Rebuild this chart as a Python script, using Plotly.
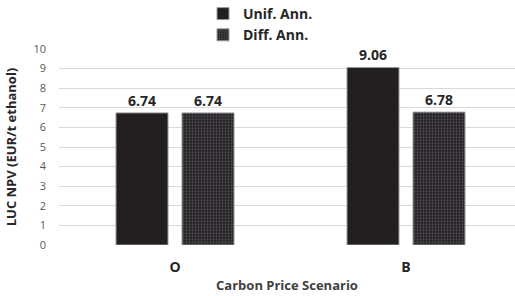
import plotly.graph_objects as go

categories = ["O", "B"]
unif_ann = [6.74, 9.06]
diff_ann = [6.74, 6.78]
series_names = ["Unif. Ann.", "Diff. Ann."]
y_ticks = [0, 1, 2, 3, 4, 5, 6, 7, 8, 9, 10]

W, H = 515, 296
ml, mr, mt, mb = 59, 0, 49, 51
pw = W - ml - mr
ph = H - mt - mb

FONT = "Open Sans"

fig = go.Figure()
fig.add_trace(go.Bar(
    x=categories, y=unif_ann, name=series_names[0],
    marker=dict(color="#231f20", line=dict(color="#9a9a9a", width=1)),
    texttemplate="%{y:.2f}", textposition="outside", cliponaxis=False,
    textfont=dict(family=FONT, size=14, color="#262626", weight="bold"),
))
fig.add_trace(go.Bar(
    x=categories, y=diff_ann, name=series_names[1],
    marker=dict(color="#231f20", line=dict(color="#9a9a9a", width=1),
                pattern=dict(shape=".", bgcolor="#231f20", fgcolor="#6f7080",
                             size=3, solidity=0.45, fillmode="overlay")),
    texttemplate="%{y:.2f}", textposition="outside", cliponaxis=False,
    textfont=dict(family=FONT, size=14, color="#262626", weight="bold"),
))

# category positions: O center at px 175, B at 406
scale = 406 - 175
x0 = -(175 - ml) / scale
x1 = 1 + (W - mr - 406) / scale

fig.update_layout(
    width=W, height=H,
    margin=dict(l=ml, r=mr, t=mt, b=mb, pad=0, autoexpand=False),
    paper_bgcolor="white", plot_bgcolor="white",
    barmode="group", bargap=0.4286, bargroupgap=0.212,
    hovermode=False,
    font=dict(family=FONT, color="#595959"),
    legend=dict(
        orientation="v", x=(203 - ml) / pw, xanchor="left",
        y=1 + 51 / ph, yanchor="top",
        font=dict(family=FONT, size=14, color="#262626", weight="bold"),
        bgcolor="rgba(0,0,0,0)", tracegroupgap=0, itemwidth=30,
        traceorder="normal",
    ),
    xaxis=dict(
        range=[x0, x1], showgrid=False, zeroline=False, showline=False,
        automargin=False, ticklabelstandoff=12,
        ticks="", tickfont=dict(family=FONT, size=14, color="#262626", weight="bold"),
        title=dict(text="Carbon Price Scenario", standoff=5,
                   font=dict(family=FONT, size=13, color="#404040", weight="bold")),
    ),
    yaxis=dict(
        range=[0, 10], tickvals=y_ticks, showgrid=True, gridcolor="#d9d9d9",
        gridwidth=1, zeroline=False, showline=False, ticks="",
        automargin=False, ticklabelstandoff=12,
        tickfont=dict(family=FONT, size=11, color="#595959"),
        title=dict(text="LUC NPV (EUR/t ethanol)", standoff=13,
                   font=dict(family=FONT, size=13, color="#262626", weight="bold")),
    ),
)

fig.write_html("out.html", config={"displayModeBar": False},
               post_script="document.body.style.margin='0';")
